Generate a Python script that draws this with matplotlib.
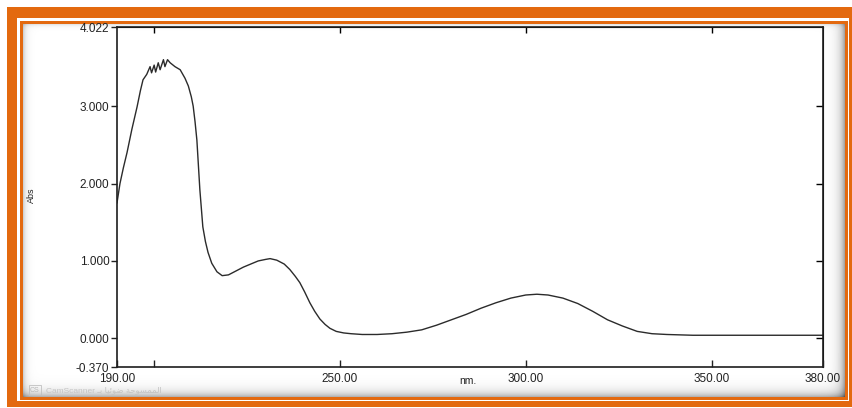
"""UV-Vis absorbance scan (190-380 nm) redrawn inside an orange photo frame."""

import numpy as np
import matplotlib
matplotlib.use("Agg")
import matplotlib.pyplot as plt
from matplotlib.patches import Rectangle

plt.rcParams['font.family'] = ['Liberation Sans', 'DejaVu Sans']

# spectrum
wavelength_nm = [
    190.0, 190.8, 191.7, 192.7, 194.0, 195.4, 196.3, 197.0, 198.0, 198.9,
    199.3, 200.0, 200.4, 201.1, 201.6, 202.5, 202.9, 203.6, 204.3, 205.6,
    207.0, 208.3, 209.2, 210.0, 210.5, 211.0, 211.5, 212.3, 213.1, 213.8,
    214.5, 215.5, 216.9, 218.3, 220.0, 222.0, 224.0, 226.0, 228.0, 230.0,
    231.2, 233.0, 235.0, 236.5, 238.0, 239.2, 240.5, 241.9, 243.2, 244.6,
    246.0, 247.3, 249.0, 251.0, 253.0, 256.0, 260.0, 264.0, 268.0, 272.0,
    276.0, 280.0, 284.0, 288.0, 292.0, 296.0, 300.0, 303.0, 306.0, 310.0,
    314.0, 318.0, 322.0, 326.0, 330.0, 334.0, 338.0, 345.0, 360.0, 380.0,
]
absorbance = [
    1.75, 2.00, 2.20, 2.40, 2.70, 2.99, 3.20, 3.34, 3.41, 3.51,
    3.43, 3.53, 3.44, 3.56, 3.47, 3.60, 3.51, 3.60, 3.56, 3.51,
    3.47, 3.36, 3.26, 3.12, 3.00, 2.80, 2.56, 1.92, 1.44, 1.25,
    1.11, 0.97, 0.86, 0.81, 0.82, 0.87, 0.92, 0.96, 1.00, 1.02,
    1.03, 1.01, 0.96, 0.89, 0.80, 0.72, 0.60, 0.46, 0.35, 0.25,
    0.18, 0.13, 0.09, 0.07, 0.06, 0.05, 0.05, 0.06, 0.08, 0.11,
    0.17, 0.24, 0.31, 0.39, 0.46, 0.52, 0.56, 0.57, 0.56, 0.52,
    0.45, 0.35, 0.24, 0.16, 0.09, 0.06, 0.05, 0.04, 0.04, 0.04,
]

x_ticks = [190, 200, 250, 300, 350, 380]
x_tick_labels = ['190.00', '', '250.00', '300.00', '350.00', '380.00']
y_ticks = [-0.370, 0.0, 1.0, 2.0, 3.0, 4.022]
y_tick_labels = ['-0.370', '0.000', '1.000', '2.000', '3.000', '4.022']
inner_x_ticks = [200, 250, 300, 350]
inner_y_ticks = [0.0, 1.0, 2.0, 3.0]

W, H = 853, 408
ORANGE = '#e3690f'


def px_box(x0, y0, x1, y1):
    # pixel box (top-left origin) -> figure fraction [l, b, w, h]
    return [x0 / W, 1 - y1 / H, (x1 - x0) / W, (y1 - y0) / H]


fig = plt.figure(figsize=(W / 100, H / 100), dpi=100)

# frame drawn in pixel space on a background axes
bg = fig.add_axes([0, 0, 1, 1])
bg.axis('off')
bg.add_patch(Rectangle((7, 7), W - 7, 407 - 7, color=ORANGE, lw=0, zorder=1))
bg.add_patch(Rectangle((17, 18), 849 - 17, 401 - 18, color='white', lw=0, zorder=1.1))
bg.add_patch(Rectangle((20, 21), 848 - 20, 400 - 21, color=ORANGE, lw=0, zorder=1.2))

# panel with soft scanner shadow on its edges
px0, py0, px1, py1 = 23, 24, 845, 397
gx = np.arange(px1 - px0)
gy = np.arange(py1 - py0)
shade = np.ones((len(gy), len(gx)))
shade -= 0.18 * np.exp(-gx / 3.0)[None, :]
shade -= 0.35 * np.exp(-(gx[-1] - gx) / 5.0)[None, :]
shade -= 0.10 * np.exp(-gy / 2.0)[:, None]
shade -= 0.30 * np.exp(-(gy[-1] - gy) / 5.0)[:, None]
bg.imshow(np.clip(shade, 0, 1), cmap='gray', vmin=0, vmax=1, zorder=2,
          extent=(px0, px1, py1, py0), aspect='auto', interpolation='bilinear')
bg.set_xlim(0, W)
bg.set_ylim(H, 0)

# CamScanner watermark
bg.text(35, 390, 'CS', fontsize=5, color='#b8b8b8', ha='center', va='center',
        zorder=3,
        bbox=dict(boxstyle='square,pad=0.15', fc='none', ec='#c0c0c0', lw=0.6))
bg.text(46, 390, 'CamScanner \u0640\ufe91 \ufe8e\ufef4\ufe8b\ufeee\ufebf \ufe94\ufea3\ufeee\ufeb4\ufee4\ufee4\ufedf\ufe8d',
        fontsize=6, color='#c4c4c4', ha='left', va='center', zorder=3,
        family=['Liberation Sans', 'DejaVu Sans'])

# the spectrum itself
ax = fig.add_axes(px_box(117, 27, 823, 367))
ax.patch.set_alpha(0)
ax.plot(wavelength_nm, absorbance, color='#2b2b2b', lw=1.0)
ax.set_xlim(190, 380)
ax.set_ylim(-0.370, 4.022)

ax.set_xticks(x_ticks)
ax.set_xticklabels(x_tick_labels)
ax.set_yticks(y_ticks)
ax.set_yticklabels(y_tick_labels)
ax.tick_params(axis='x', direction='in', length=5, width=1.0, pad=4,
               labelsize=8.5, colors='#222222')
ax.tick_params(axis='y', direction='out', length=4, width=1.0, pad=1.5,
               labelsize=8.5, colors='#222222')
for s in ax.spines.values():
    s.set_linewidth(1.2)
    s.set_color('#1e1e1e')

top = ax.secondary_xaxis('top')
top.set_xticks(inner_x_ticks)
top.tick_params(direction='in', length=4, width=1.0, labeltop=False)
right = ax.secondary_yaxis('right')
right.set_yticks(inner_y_ticks)
right.tick_params(direction='in', length=5, width=1.0, labelright=False)

bg.text(468, 381, 'nm.', fontsize=7.5, color='#222222', ha='center', va='center',
        zorder=3)
bg.text(31, 195, 'Abs', fontsize=6.5, color='#222222', ha='center', va='center',
        rotation=90, zorder=3)

fig.savefig('out.png', dpi=100)
